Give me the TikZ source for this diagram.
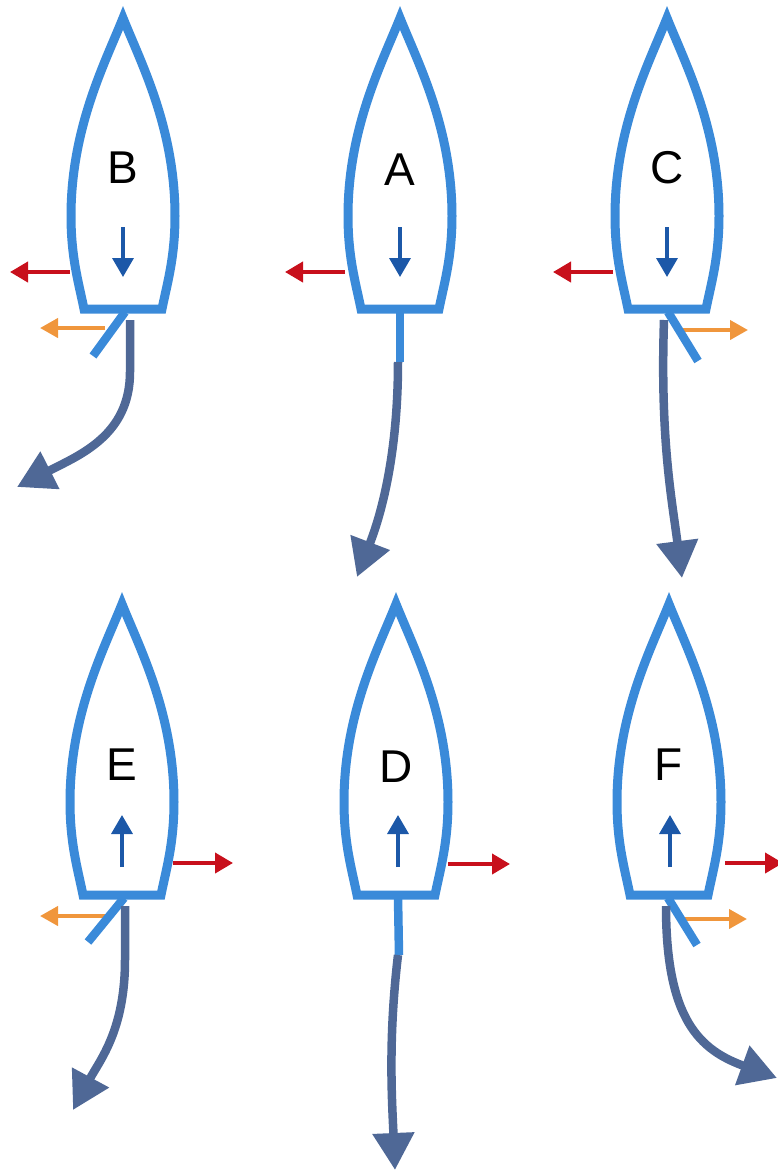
\documentclass[tikz,border=0pt]{standalone}
\usepackage{fontspec}
\setmainfont{Liberation Sans}
\usetikzlibrary{arrows.meta}
\definecolor{hullBlue}{RGB}{58,138,217}
\definecolor{headBlue}{RGB}{28,88,168}
\definecolor{pushRed}{RGB}{200,16,28}
\definecolor{pullOrange}{RGB}{240,150,60}
\definecolor{wakeSlate}{RGB}{79,104,150}

\begin{document}
\begin{tikzpicture}[x=1pt, y=-1pt,
  hull/.style={hullBlue, line width=9pt, line join=miter},
  rudder/.style={hullBlue, line width=8.5pt},
  wake/.style={wakeSlate, line width=8.5pt, -{Triangle[length=37pt, width=40pt]}},
  heading/.style={headBlue, line width=3.5pt, -{Triangle[length=19pt, width=21pt]}},
  side/.style={pushRed, line width=4pt, -{Triangle[length=18pt, width=20pt]}},
  tail/.style={pullOrange, line width=4pt, -{Triangle[length=18pt, width=19pt]}},
  boatlbl/.style={font=\fontsize{46}{52}\selectfont}]
\useasboundingbox (0,0) rectangle (778,1171);
% hulls and letters
\foreach \bx/\by/\ly/\l in {123/18/168/B, 400/18/170/A, 667/18/168/C, 122/604/765/E, 396/604/767/D, 669/604/765/F}{
\draw[hull, shift={(\bx,\by)}] (0,0) .. controls (18,45) and (52,110) .. (52,198)
  .. controls (52,240) and (44,266) .. (39,291) -- (-39,291)
  .. controls (-44,266) and (-52,240) .. (-52,198)
  .. controls (-52,110) and (-18,45) .. cycle;
\node[boatlbl] (boat\l) at (\bx,\ly) {\l};
}
% heading arrows
\foreach \x in {123, 400, 667}{
\draw[heading] (\x,227) -- (\x,277);
}
\foreach \x in {122, 398, 670}{
\draw[heading] (\x,867) -- (\x,815);
}
% side forces
\draw[side] (70,272) -- (10,272);
\draw[side] (345,272) -- (285,272);
\draw[side] (613,272) -- (553,272);
\draw[side] (173,863) -- (233,863);
\draw[side] (448,864) -- (510,864);
\draw[side] (725,863) -- (783,863);
% stern forces
\draw[tail] (105,328) -- (40,328);
\draw[tail] (683,330) -- (748,330);
\draw[tail] (105,916) -- (40,916);
\draw[tail] (685,919) -- (747,919);
% rudders
\draw[rudder] (125,312) -- (93,356);
\draw[rudder] (400,312) -- (400,362);
\draw[rudder] (668,312) -- (698,361);
\draw[rudder] (124,898) -- (88,942);
\draw[rudder] (398,897) -- (399,955);
\draw[rudder] (668,898) -- (697,945);
% wakes
\draw[wake] (130,320) -- (130,372) .. controls (130,435) and (80,455) .. (17,487);
\draw[wake] (398,362) .. controls (398,470) and (375,530) .. (357,577);
\draw[wake] (664,320) .. controls (660,440) and (672,500) .. (682,578);
\draw[wake] (125,906) -- (125,960) .. controls (125,1030) and (100,1060) .. (73,1110);
\draw[wake] (398,955) .. controls (388,1040) and (392,1100) .. (395,1170);
\draw[wake] (666,906) .. controls (666,1020) and (700,1050) .. (777,1078);
\end{tikzpicture}
\end{document}
